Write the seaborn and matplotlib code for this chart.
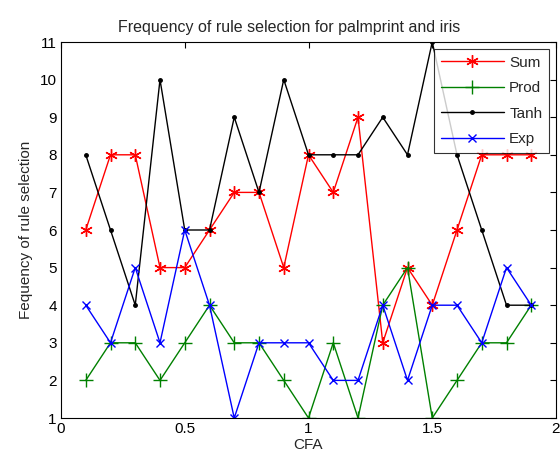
import matplotlib
matplotlib.use("Agg")
import matplotlib.pyplot as plt
import seaborn as sns
import pandas as pd
import numpy as np

cfa = [0.1, 0.2, 0.3, 0.4, 0.5, 0.6, 0.7, 0.8, 0.9, 1.0, 1.1, 1.2, 1.3, 1.4, 1.5, 1.6, 1.7, 1.8, 1.9]
sum_vals = [6, 8, 8, 5, 5, 6, 7, 7, 5, 8, 7, 9, 3, 5, 4, 6, 8, 8, 8]
prod_vals = [2, 3, 3, 2, 3, 4, 3, 3, 2, 1, 3, 1, 4, 5, 1, 2, 3, 3, 4]
tanh_vals = [8, 6, 4, 10, 6, 6, 9, 7, 10, 8, 8, 8, 9, 8, 11, 8, 6, 4, 4]
exp_vals = [4, 3, 5, 3, 6, 4, 1, 3, 3, 3, 2, 2, 4, 2, 4, 4, 3, 5, 4]
series_names = ["Sum", "Prod", "Tanh", "Exp"]
xticks = [0, 0.5, 1, 1.5, 2]
yticks = list(range(1, 12))

sns.set_theme(style="white")
plt.rcParams['font.family'] = ['Liberation Sans', 'DejaVu Sans']

df = pd.DataFrame({
    "CFA": cfa * 4,
    "value": sum_vals + prod_vals + tanh_vals + exp_vals,
    "rule": sum([[n] * len(cfa) for n in series_names], []),
})

colors = {"Sum": "#ff0000", "Prod": "#008000", "Tanh": "#000000", "Exp": "#0000ff"}
markers = {"Sum": (6, 2, 0), "Prod": "+", "Tanh": ".", "Exp": "x"}
msizes = {"Sum": 9, "Prod": 10, "Tanh": 5, "Exp": 6}

fig = plt.figure(figsize=(5.6, 4.66), dpi=100)
ax = fig.add_axes([61/560, 1 - 418/466, (556 - 61)/560, (418 - 42)/466])

for name in series_names:
    sub = df[df["rule"] == name]
    sns.lineplot(data=sub, x="CFA", y="value", ax=ax, color=colors[name],
                 marker=markers[name], markersize=msizes[name], linewidth=1.0,
                 markeredgewidth=1.0, markeredgecolor=colors[name],
                 label=name, estimator=None, sort=False)

ax.set_xlim(0, 2)
ax.set_ylim(1, 11)
ax.set_xticks(xticks)
ax.set_xticklabels(["0", "0.5", "1", "1.5", "2"])
ax.set_yticks(yticks)
ax.tick_params(direction="in", length=4, width=0.8, top=True, right=True,
               labelsize=11, colors="black", pad=3)
for s in ax.spines.values():
    s.set_color("black")
    s.set_linewidth(0.8)
ax.grid(False)

ax.set_title("Frequency of rule selection for palmprint and iris", fontsize=11.5,
             pad=7, x=0.46)
ax.set_xlabel("CFA", fontsize=11, labelpad=1)
ax.set_ylabel("Fequency of rule selection", fontsize=11, labelpad=5)

leg = ax.legend(loc="upper right", fontsize=11, frameon=True, fancybox=False,
                edgecolor="black", borderaxespad=0.45, handlelength=4.1,
                labelspacing=0.75, borderpad=0.45, handletextpad=0.35)
leg.get_frame().set_linewidth(0.8)

fig.savefig("out.png", dpi=100, facecolor="white")
